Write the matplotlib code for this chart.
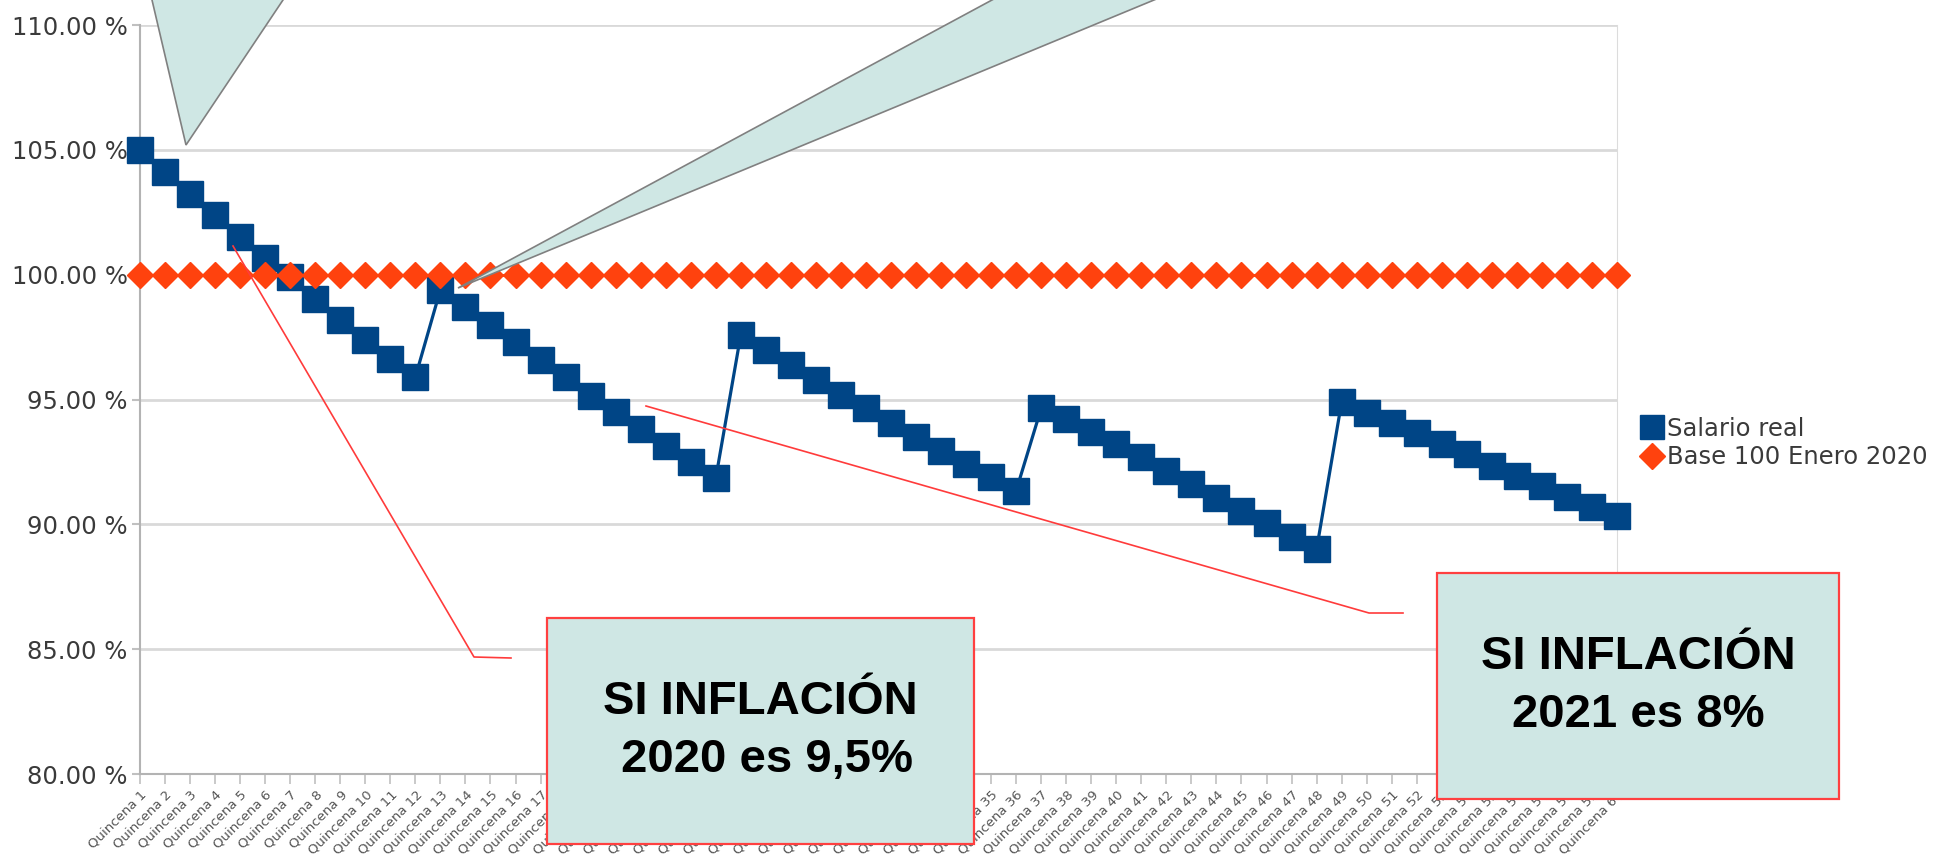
from matplotlib import pyplot as plt
from matplotlib.lines import Line2D
from matplotlib.patches import Polygon, Rectangle
import numpy as np
import matplotlib

matplotlib.use("Agg")

W, H = 1955, 856

# salario real (% respecto de enero 2020), 60 quincenas
salario_real = [
    105.0, 104.12, 103.22, 102.38, 101.51, 100.68, 99.9, 99.04, 98.2, 97.4, 96.64, 95.9,
    99.4, 98.7, 98.0, 97.3, 96.6, 95.9, 95.15, 94.5, 93.8, 93.15, 92.5, 91.85,
    97.6, 97.0, 96.4, 95.8, 95.2, 94.65, 94.05, 93.5, 92.95, 92.4, 91.9, 91.35,
    94.65, 94.2, 93.7, 93.2, 92.7, 92.15, 91.6, 91.05, 90.55, 90.05, 89.5, 89.0,
    94.9, 94.45, 94.05, 93.65, 93.2, 92.8, 92.35, 91.95, 91.55, 91.1, 90.7, 90.35,
]
base_100 = [100.0] * len(salario_real)
etiquetas_x = ["Quincena %d" % (i + 1) for i in range(len(salario_real))]
yticks = [80, 85, 90, 95, 100, 105, 110]

nota_2020 = "SI INFLACIÓN\n 2020 es 9,5%"
nota_2021 = "SI INFLACIÓN\n2021 es 8%"

azul = "#004586"
naranja = "#ff420e"
celeste = "#cfe7e4"
rojo = "#ff3b3b"


def fig_xy(x, y):
    # pixel coords (origin top-left) -> figure fraction
    return x / W, 1 - y / H


#%%
fig = plt.figure(figsize=(W / 100, H / 100), dpi=100)
x0, y0 = fig_xy(140, 774)
x1, y1 = fig_xy(1617, 25)
ax = fig.add_axes([x0, y0, x1 - x0, y1 - y0])

x = np.arange(len(salario_real))
ax.plot(x, salario_real, color=azul, lw=2.3, marker="s", ms=18.5,
        clip_on=False, zorder=3)
ax.plot(x, base_100, color=naranja, lw=2, marker="D", ms=13.5,
        clip_on=False, zorder=4)

ax.set_xlim(0, len(salario_real) - 1)
ax.set_ylim(80, 110)
ax.set_yticks(yticks)
ax.set_yticklabels(["%.2f %%" % v for v in yticks])
ax.set_xticks(x)
ax.set_xticklabels(etiquetas_x, rotation=45, ha="right", va="top",
                   rotation_mode="anchor", fontsize=9.5, color="#555555")
ax.grid(axis="y", color="#d9d9d9", lw=2)
ax.set_axisbelow(True)
ax.spines["top"].set_visible(False)
ax.spines["left"].set_color("#b3b3b3")
ax.spines["bottom"].set_color("#b3b3b3")
ax.spines["right"].set_color("#dcdcdc")
ax.spines["left"].set_linewidth(1.5)
ax.spines["bottom"].set_linewidth(1.5)
ax.tick_params(axis="y", length=6, width=1.5, color="#c0c0c0", pad=3,
               labelsize=17.5, labelcolor="#3a3a3a")
ax.tick_params(axis="x", length=7, width=1.2, color="#c0c0c0", pad=3)

handles = [
    Line2D([], [], ls="none", marker="s", ms=17, color=azul),
    Line2D([], [], ls="none", marker="D", ms=13, color=naranja),
]
lx, ly = fig_xy(1641, 443)
ax.legend(handles, ["Salario real", "Base 100 Enero 2020"], loc="center left",
          bbox_to_anchor=(lx, ly), bbox_transform=fig.transFigure,
          frameon=False, fontsize=17.5, labelcolor="#3a3a3a",
          handlelength=0.9, handletextpad=0.15, labelspacing=0.2,
          borderpad=0, borderaxespad=0)


# colas de los globos que vienen desde arriba
def cola(tip, izq, der):
    pts = []
    for p in (izq, der):
        k = (tip[1] + 30) / (tip[1] - p[1])
        pts.append(fig_xy(tip[0] + (p[0] - tip[0]) * k, -30))
    return [pts[0], pts[1], fig_xy(*tip)]


for tip, izq, der in [((186, 145), (152, 0), (283, 0)),
                      ((458, 288), (992, 0), (1154, 0))]:
    fig.add_artist(Polygon(cola(tip, izq, der), closed=True, facecolor=celeste,
                           edgecolor="#808080", lw=1.2,
                           transform=fig.transFigure, zorder=5))

# conectores rojos
for pts in [[(233, 246), (474, 657), (511, 658)],
            [(646, 406), (1369, 613), (1403, 613)]]:
    xs, ys = zip(*[fig_xy(*p) for p in pts])
    fig.add_artist(Line2D(xs, ys, color=rojo, lw=1.2,
                          transform=fig.transFigure, zorder=5))

# cuadros de texto
for (bx0, by0, bx1, by1), txt, ls in [((547, 618, 974, 844), nota_2020, 1.43),
                                      ((1437, 573, 1839, 799), nota_2021, 1.4)]:
    ax0, ay0 = fig_xy(bx0, by1)
    ax1, ay1 = fig_xy(bx1, by0)
    fig.add_artist(Rectangle((ax0, ay0), ax1 - ax0, ay1 - ay0,
                             facecolor=celeste, edgecolor="#ff4040", lw=1.6,
                             transform=fig.transFigure, zorder=6))
    fig.text((ax0 + ax1) / 2, (ay0 + ay1) / 2, txt, ha="center", va="center",
             fontsize=34, fontweight="bold", family="Liberation Sans",
             linespacing=ls, zorder=7)

plt.savefig("out.png", dpi=100)
